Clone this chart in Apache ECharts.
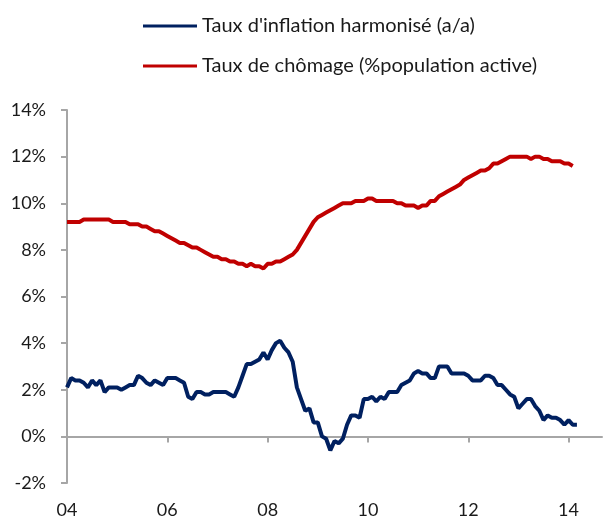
<!DOCTYPE html>
<html>
<head>
<meta charset="utf-8">
<script src="https://cdn.jsdelivr.net/npm/echarts@6/dist/echarts.min.js"></script>
<style>
  html, body { margin: 0; padding: 0; background: #fff; }
  #chart { width: 604px; height: 520px; }
</style>
</head>
<body>
<div id="chart"></div>
<script>
// monthly points, first one sits on the "04" tick
var yearLabels = ['04', '06', '08', '10', '12', '14'];
var nMonths = 129;

var inflation = [
    2.1, 2.5, 2.4, 2.4, 2.3, 2.1, 2.4, 2.2, 2.4,
    1.9, 2.1, 2.1, 2.1, 2.0, 2.1, 2.2, 2.2, 2.6, 2.5, 2.3, 2.2,
    2.4, 2.3, 2.2, 2.5, 2.5, 2.5, 2.4, 2.3, 1.7, 1.6, 1.9, 1.9,
    1.8, 1.8, 1.9, 1.9, 1.9, 1.9, 1.8, 1.7, 2.1, 2.6, 3.1, 3.1,
    3.2, 3.3, 3.6, 3.3, 3.7, 4.0, 4.1, 3.8, 3.6, 3.2, 2.1, 1.6,
    1.1, 1.2, 0.6, 0.6, 0.0, -0.1, -0.6, -0.2, -0.3, -0.1, 0.5, 0.9,
    0.9, 0.8, 1.6, 1.6, 1.7, 1.5, 1.7, 1.6, 1.9, 1.9, 1.9, 2.2,
    2.3, 2.4, 2.7, 2.8, 2.7, 2.7, 2.5, 2.5, 3.0, 3.0, 3.0, 2.7,
    2.7, 2.7, 2.7, 2.6, 2.4, 2.4, 2.4, 2.6, 2.6, 2.5, 2.2, 2.2,
    2.0, 1.8, 1.7, 1.2, 1.4, 1.6, 1.6, 1.3, 1.1, 0.7, 0.9, 0.8,
    0.8, 0.7, 0.5, 0.7, 0.5, 0.5
];

var chomage = [
    9.2, 9.2, 9.2, 9.2, 9.3, 9.3, 9.3, 9.3, 9.3, 9.3, 9.3, 9.2,
    9.2, 9.2, 9.2, 9.1, 9.1, 9.1, 9.0, 9.0, 8.9, 8.8, 8.8, 8.7,
    8.6, 8.5, 8.4, 8.3, 8.3, 8.2, 8.1, 8.1, 8.0, 7.9, 7.8, 7.7,
    7.7, 7.6, 7.6, 7.5, 7.5, 7.4, 7.4, 7.3, 7.4, 7.3, 7.3, 7.2,
    7.4, 7.4, 7.5, 7.5, 7.6, 7.7, 7.8, 8.0, 8.3, 8.6, 8.9, 9.2,
    9.4, 9.5, 9.6, 9.7, 9.8, 9.9, 10.0, 10.0, 10.0, 10.1, 10.1, 10.1,
    10.2, 10.2, 10.1, 10.1, 10.1, 10.1, 10.1, 10.0, 10.0, 9.9, 9.9, 9.9,
    9.8, 9.9, 9.9, 10.1, 10.1, 10.3, 10.4, 10.5, 10.6, 10.7, 10.8, 11.0,
    11.1, 11.2, 11.3, 11.4, 11.4, 11.5, 11.7, 11.7, 11.8, 11.9, 12.0, 12.0,
    12.0, 12.0, 12.0, 11.9, 12.0, 12.0, 11.9, 11.9, 11.8, 11.8, 11.8, 11.7,
    11.7, 11.6
];

var months = [];
for (var i = 0; i < nMonths; i++) {
    months.push('m' + i);
}

var chart = echarts.init(document.getElementById('chart'));

var axisGrey = '#a6a6a6';
var textCol = '#1a1a1a';
var fontFam = 'Lato, "Liberation Sans", sans-serif';

var option = {
    animation: false,
    backgroundColor: '#fff',
    legend: {
        orient: 'vertical',
        left: 138,
        top: 10,
        icon: 'rect',
        itemWidth: 54,
        itemHeight: 3,
        itemGap: 18,
        textStyle: {
            fontFamily: fontFam,
            fontSize: 20,
            lineHeight: 22,
            color: textCol
        },
        data: ["Taux d'inflation harmonisé (a/a)", 'Taux de chômage (%population active)']
    },
    grid: {
        left: 67,
        right: 2,
        top: 110,
        bottom: 37
    },
    xAxis: [{
        type: 'category',
        position: 'bottom',
        boundaryGap: false,
        data: months,
        axisLine: {
            onZero: true,
            lineStyle: { color: axisGrey, width: 2 }
        },
        axisTick: {
            show: true,
            interval: 23,
            inside: false,
            length: 6,
            lineStyle: { color: axisGrey, width: 2 }
        },
        axisLabel: { show: false },
        splitLine: { show: false }
    }, {
        type: 'category',
        position: 'bottom',
        boundaryGap: false,
        data: months,
        axisLine: { show: false, onZero: false },
        axisTick: { show: false },
        axisLabel: {
            interval: 23,
            margin: 18,
            fontFamily: fontFam,
            fontSize: 18,
            color: textCol,
            formatter: function (val, idx) {
                return yearLabels[idx / 24] || '';
            }
        },
        splitLine: { show: false }
    }],
    yAxis: {
        type: 'value',
        min: -2,
        max: 14,
        interval: 2,
        axisLine: {
            show: true,
            lineStyle: { color: axisGrey, width: 2 }
        },
        axisTick: {
            show: true,
            length: 6,
            lineStyle: { color: axisGrey, width: 2 }
        },
        axisLabel: {
            margin: 21,
            fontFamily: fontFam,
            fontSize: 18,
            color: textCol,
            formatter: '{value}%'
        },
        splitLine: { show: false }
    },
    series: [{
        name: "Taux d'inflation harmonisé (a/a)",
        type: 'line',
        xAxisIndex: 0,
        symbol: 'none',
        lineStyle: { color: '#002060', width: 4 },
        itemStyle: { color: '#002060' },
        data: inflation
    }, {
        name: 'Taux de chômage (%population active)',
        type: 'line',
        xAxisIndex: 0,
        symbol: 'none',
        lineStyle: { color: '#c00000', width: 4 },
        itemStyle: { color: '#c00000' },
        data: chomage
    }]
};

chart.setOption(option);
</script>
</body>
</html>
